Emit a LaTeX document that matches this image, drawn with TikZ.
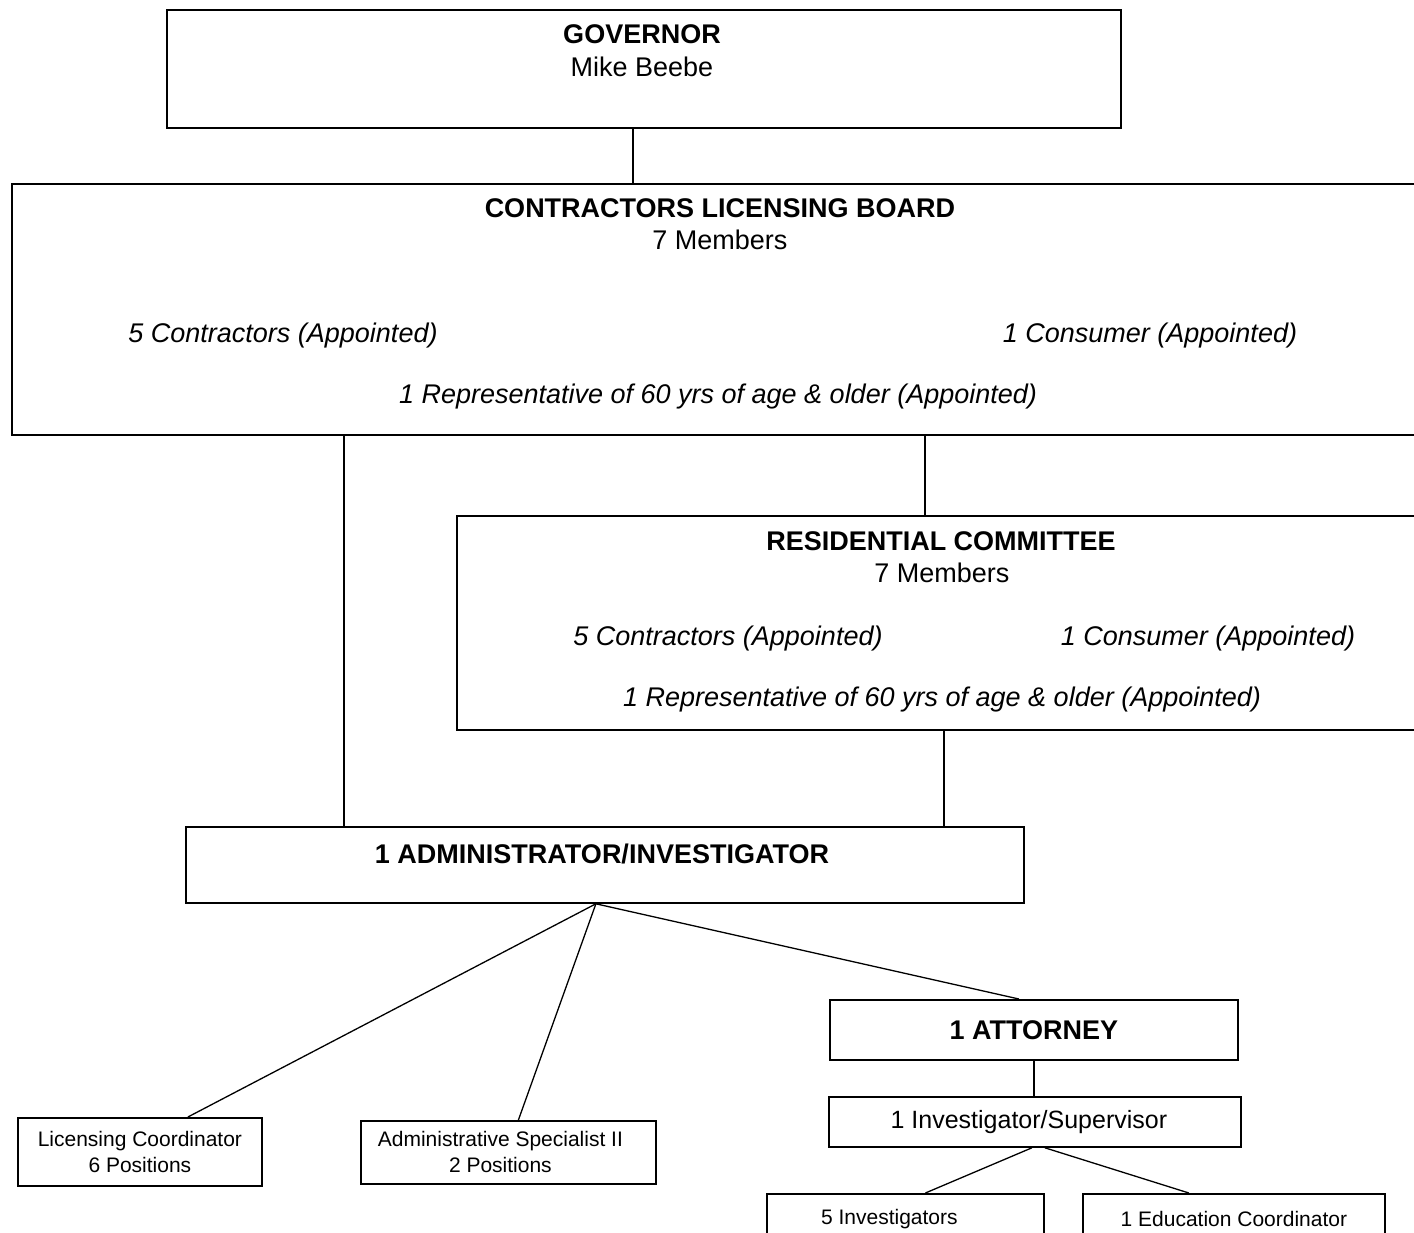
\documentclass[tikz,border=0pt]{standalone}
\usepackage{fontspec}
\setmainfont{Liberation Sans}
\usetikzlibrary{positioning}

\tikzset{
  box/.style={draw, line width=1.8pt, anchor=north west, inner sep=0pt, align=center},
  link/.style={line width=1.3pt},
  head/.style={anchor=base, font=\bfseries\fontsize{27}{30}\selectfont},
  plain/.style={anchor=base, font=\fontsize{27}{30}\selectfont},
  appt/.style={anchor=base, font=\itshape\fontsize{27}{30}\selectfont},
  staff/.style={font=\fontsize{21}{26}\selectfont},
}

\begin{document}
\begin{tikzpicture}[x=1pt, y=-1pt]
  \useasboundingbox (0,0) rectangle (1414,1233);

  % boxes
  \node(gov) [box, minimum width=954pt, minimum height=118pt] at (166,9) {};
  \node(board) [box, minimum width=1419pt, minimum height=251pt] at (11,183) {};
  \node(resc) [box, minimum width=974pt, minimum height=214pt] at (456,515) {};
  \node(admin) [box, minimum width=838pt, minimum height=76pt] at (185,826) {};
  \node(atty) [box, minimum width=408pt, minimum height=60pt, font=\bfseries\fontsize{27}{30}\selectfont] at (829,999) {1 ATTORNEY};
  \node(invsup) [box, minimum width=412pt, minimum height=50pt, font=\fontsize{25}{28}\selectfont] at (828,1096) {1 Investigator/Supervisor\hspace*{12pt}};
  \node(lic) [box, staff, minimum width=244pt, minimum height=68pt] at (17,1117) {Licensing Coordinator\\6 Positions};
  \node(spec) [box, staff, minimum width=295pt, minimum height=63pt] at (360,1120) {Administrative Specialist II\hspace*{16pt}\\2 Positions\hspace*{16pt}};
  \node(inv) [box, staff, minimum width=277pt, minimum height=50pt] at (766,1193) {5 Investigators\hspace*{32pt}};
  \node(edu) [box, staff, minimum width=302pt, minimum height=50pt] at (1082,1193) {1 Education Coordinator};

  % texts in the big boxes
  \node(govt) [head] at (642,44) {GOVERNOR};
  \node(govn) [plain] at (642,77) {Mike Beebe};

  \node(boardt) [head] at (720,218) {CONTRACTORS LICENSING BOARD};
  \node(boardn) [plain] at (720,250) {7 Members};
  \node(boardc) [appt] at (283,343) {5 Contractors (Appointed)};
  \node(boardu) [appt] at (1150,343) {1 Consumer (Appointed)};
  \node(boardr) [appt] at (718,403) {1 Representative of 60 yrs of age \& older (Appointed)};

  \node(resct) [head] at (941,550) {RESIDENTIAL COMMITTEE};
  \node(rescn) [plain] at (942,582) {7 Members};
  \node(rescc) [appt] at (728,645) {5 Contractors (Appointed)};
  \node(rescu) [appt] at (1208,645) {1 Consumer (Appointed)};
  \node(rescr) [appt] at (942,706) {1 Representative of 60 yrs of age \& older (Appointed)};

  \node(admint) [head] at (602,863) {1 ADMINISTRATOR/INVESTIGATOR};

  % connectors
  \draw[link] ([xshift=-11pt]gov.south) -- ([xshift=-11pt]gov.south |- board.north);
  \draw[link] ([xshift=-261pt]admin.north) -- ([xshift=-261pt]admin.north |- board.south);
  \draw[link] ([xshift=-19pt]resc.north) -- ([xshift=-19pt]resc.north |- board.south);
  \draw[link] (resc.south) -- (resc.south |- admin.north);

  \draw[link] ([xshift=-9pt]admin.south) -- ([xshift=48pt]lic.north);
  \draw[link] ([xshift=-9pt]admin.south) -- ([xshift=10pt]spec.north);
  \draw[link] ([xshift=-9pt]admin.south) -- ([xshift=-15pt]atty.north);

  \draw[link] (atty.south) -- (atty.south |- invsup.north);
  \draw[link] ([xshift=-3pt]invsup.south) -- ([xshift=20pt]inv.north);
  \draw[link] ([xshift=10pt]invsup.south) -- ([xshift=-45pt]edu.north);
\end{tikzpicture}
\end{document}
